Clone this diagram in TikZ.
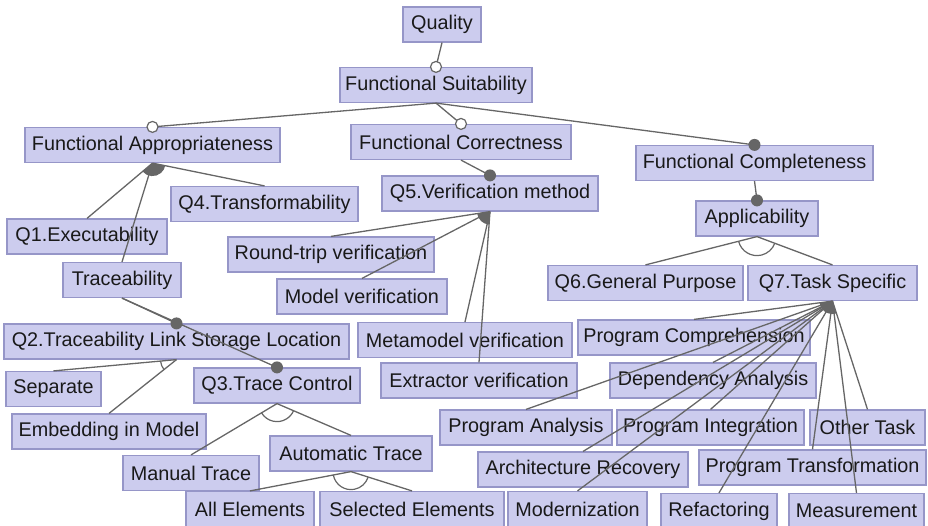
\documentclass[tikz,border=0pt]{standalone}
\usepackage{fontspec}
\setmainfont{Liberation Sans}
\usetikzlibrary{calc}
\definecolor{boxfill}{RGB}{204,204,238}
\definecolor{boxdraw}{RGB}{150,150,200}
\definecolor{linec}{RGB}{102,102,102}
\definecolor{txt}{RGB}{25,25,25}
\tikzset{
 feat/.style={draw=boxdraw, fill=boxfill, line width=1.2pt, inner sep=0pt, minimum height=35pt, text=txt, font=\fontsize{19.8}{22}\selectfont},
 conn/.style={draw=linec, line width=1.3pt},
 optm/.style={draw=linec, fill=white, line width=1.2pt},
 mandm/.style={fill=linec},
}
\newcommand{\featedge}[2]{\draw[conn] (#1.south) -- (#2.north);}
\newcommand{\optedge}[2]{\draw[conn] (#1.south) -- (#2.north); \draw[optm] (#2.north) circle[radius=5.5pt];}
\newcommand{\mandedge}[2]{\draw[conn] (#1.south) -- (#2.north); \fill[mandm] (#2.north) circle[radius=6pt];}
\newcommand{\orarc}[3]{\fill[linec] let \p0=(#1.south), \p1=(#2.north), \p2=(#3.north), \n1={atan2(\y1-\y0,\x1-\x0)}, \n2={atan2(\y2-\y0,\x2-\x0)} in (\p0) -- ++(\n1:13pt) arc[start angle=\n1, end angle=\n2, radius=13pt] -- cycle;}
\newcommand{\xorarc}[4]{\draw[conn, line width=1.2pt] let \p0=(#1.south), \p1=(#2.north), \p2=(#3.north), \n1={atan2(\y1-\y0,\x1-\x0)}, \n2={atan2(\y2-\y0,\x2-\x0)} in (\p0) ++(\n1:#4) arc[start angle=\n1, end angle=\n2, radius=#4];}
\begin{document}
\begin{tikzpicture}[x=1pt,y=1pt]
\useasboundingbox (0,0) rectangle (928,-525);
% nodes
\node[feat, minimum width=78pt] (q) at (442,-24.5) {Quality};
\node[feat, minimum width=192pt] (fs) at (436,-85) {Functional Suitability};
\node[feat, minimum width=255pt] (fa) at (152.5,-145) {Functional Appropriateness};
\node[feat, minimum width=220pt] (fc) at (461,-142) {Functional Correctness};
\node[feat, minimum width=237pt] (fcomp) at (754.5,-163) {Functional Completeness};
\node[feat, minimum width=187pt] (q4) at (264.5,-204) {Q4.Transformability};
\node[feat, minimum width=160pt] (q1) at (87,-236.5) {Q1.Executability};
\node[feat, minimum width=216pt] (q5) at (490,-193.5) {Q5.Verification method};
\node[feat, minimum width=206pt] (rt) at (331,-254.5) {Round-trip verification};
\node[feat, minimum width=170pt] (mv) at (362,-296.5) {Model verification};
\node[feat, minimum width=214pt] (mmv) at (465,-340) {Metamodel verification};
\node[feat, minimum width=196pt] (ev) at (479,-380.5) {Extractor verification};
\node[feat, minimum width=118pt] (tr) at (122,-280) {Traceability};
\node[feat, minimum width=345pt] (q2) at (176.5,-341.5) {Q2.Traceability Link Storage Location};
\node[feat, minimum width=95pt] (sep) at (53.5,-389) {Separate};
\node[feat, minimum width=194pt] (emb) at (109,-431.5) {Embedding in Model};
\node[feat, minimum width=166pt] (q3) at (277,-385.5) {Q3.Trace Control};
\node[feat, minimum width=136pt] (man) at (191,-473) {Manual Trace};
\node[feat, minimum width=162pt] (aut) at (351,-453.5) {Automatic Trace};
\node[feat, minimum width=128pt] (all) at (250,-509) {All Elements};
\node[feat, minimum width=184pt] (sel) at (412,-509) {Selected Elements};
\node[feat, minimum width=122pt] (app) at (757,-218.5) {Applicability};
\node[feat, minimum width=195pt] (q6) at (645.5,-283) {Q6.General Purpose};
\node[feat, minimum width=169pt] (q7) at (832.5,-283) {Q7.Task Specific};
\node[feat, minimum width=232pt] (pc) at (694,-337.5) {Program Comprehension};
\node[feat, minimum width=206pt] (da) at (713,-380.5) {Dependency Analysis};
\node[feat, minimum width=172pt] (pa) at (526,-427.5) {Program Analysis};
\node[feat, minimum width=187pt] (pint) at (710.5,-427.5) {Program Integration};
\node[feat, minimum width=115pt] (ot) at (867.5,-427.5) {Other Task};
\node[feat, minimum width=210pt] (ar) at (583,-469.5) {Architecture Recovery};
\node[feat, minimum width=227pt] (ptr) at (812.5,-467.5) {Program Transformation};
\node[feat, minimum width=139pt] (mod) at (577.5,-509) {Modernization};
\node[feat, minimum width=116pt] (ref) at (719,-511) {Refactoring};
\node[feat, minimum width=135pt] (meas) at (856.5,-511) {Measurement};
% connectors
\optedge{q}{fs}
\optedge{fs}{fa}
\optedge{fs}{fc}
\mandedge{fs}{fcomp}
\featedge{fa}{q1}
\featedge{fa}{tr}
\featedge{fa}{q4}
\orarc{fa}{q1}{q4}
\mandedge{fc}{q5}
\featedge{q5}{rt}
\featedge{q5}{mv}
\featedge{q5}{mmv}
\featedge{q5}{ev}
\orarc{q5}{rt}{ev}
\mandedge{tr}{q2}
\mandedge{tr}{q3}
\featedge{q2}{sep}
\featedge{q2}{emb}
\xorarc{q2}{sep}{emb}{16pt}
\featedge{q3}{man}
\featedge{q3}{aut}
\xorarc{q3}{man}{aut}{18pt}
\featedge{aut}{all}
\featedge{aut}{sel}
\xorarc{aut}{all}{sel}{18pt}
\mandedge{fcomp}{app}
\featedge{app}{q6}
\featedge{app}{q7}
\xorarc{app}{q6}{q7}{19pt}
\foreach \c in {pc,da,pa,pint,ot,ar,ptr,mod,ref,meas} {\featedge{q7}{\c}}
\orarc{q7}{pc}{ot}
\end{tikzpicture}
\end{document}
